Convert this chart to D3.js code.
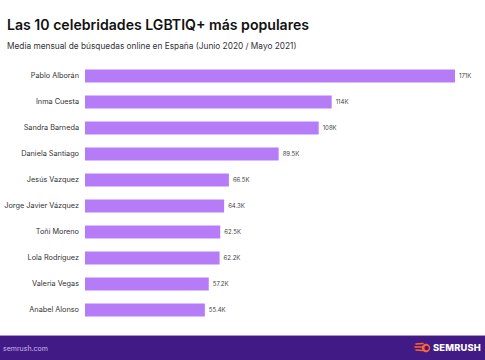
<!DOCTYPE html>
<html><head><meta charset="utf-8">
<script src="https://cdn.jsdelivr.net/npm/d3@7"></script>
<style>
html,body{margin:0;padding:0;background:#fff;}
svg{display:block;font-family:Inter,"Noto Sans",sans-serif;}
</style></head>
<body>
<svg id="c" width="485" height="360"></svg>
<script>
const names = ["Pablo Alborán","Inma Cuesta","Sandra Barneda","Daniela Santiago","Jesús Vazquez","Jorge Javier Vázquez","Toñi Moreno","Lola Rodríguez","Valeria Vegas","Anabel Alonso"];
const values = [171, 114, 108, 89.5, 66.5, 64.3, 62.5, 62.2, 57.2, 55.4];
const valueLabels = ["171K","114K","108K","89.5K","66.5K","64.3K","62.5K","62.2K","57.2K","55.4K"];
const title = "Las 10 celebridades LGBTIQ+ más populares";
const subtitle = "Media mensual de búsquedas online en España (Junio 2020 / Mayo 2021)";

const svg = d3.select("#c");
svg.append("rect").attr("width",485).attr("height",360).attr("fill","#fff");

svg.append("text").attr("x",7).attr("y",29.5).attr("font-size",14.1).attr("font-weight",600)
  .attr("fill","#111").text(title);
svg.append("text").attr("x",7).attr("y",48.5).attr("font-size",8.3).attr("fill","#333").text(subtitle);

const x = d3.scaleLinear().domain([0,171]).range([85,455]);
const y = d3.scaleBand().domain(names).range([63,323]).paddingInner(0.5).paddingOuter(0.25);

const g = svg.append("g");
g.selectAll("rect.bar").data(names).join("rect").attr("class","bar")
  .attr("x",x(0)).attr("y",d=>y(d)).attr("width",(d,i)=>x(values[i])-x(0)).attr("height",y.bandwidth())
  .attr("fill","#b67cf7");

const yAxis = d3.axisLeft(y).tickSize(0).tickPadding(6);
const ax = svg.append("g").attr("transform",`translate(${x(0)},0)`).call(yAxis);
ax.select(".domain").remove();
ax.selectAll("text").attr("font-size",7.3).attr("fill","#333").attr("font-family","Inter,'Noto Sans',sans-serif");

g.selectAll("text.val").data(names).join("text").attr("class","val")
  .attr("x",(d,i)=>x(values[i])+4).attr("y",d=>y(d)+y.bandwidth()/2).attr("dy","0.35em")
  .attr("font-size",6).attr("fill","#444").text((d,i)=>valueLabels[i]);

// footer
svg.append("rect").attr("x",0).attr("y",335).attr("width",485).attr("height",25).attr("fill","#421a85");
svg.append("rect").attr("x",0).attr("y",335).attr("width",485).attr("height",0.8).attr("fill","#c7b3e6");
svg.append("text").attr("x",3).attr("y",350.5).attr("font-size",7).attr("fill","#cbbce6").text("semrush.com");
// logo icon
const lg = svg.append("g").attr("transform","translate(423,348)");
lg.append("path").attr("d","M-7,-4 L0,-4.5 M-8,-1 L-1,-1 M-7,2 L0,2.5").attr("stroke","#ff642d").attr("stroke-width",1.6).attr("stroke-linecap","round");
lg.append("circle").attr("cx",3).attr("cy",0).attr("r",4.2).attr("fill","#ff642d");
lg.append("circle").attr("cx",3.6).attr("cy",0).attr("r",2.2).attr("fill","#421a85");
svg.append("text").attr("x",433).attr("y",351.3).attr("font-size",9.3).attr("font-weight",800)
  .attr("fill","#fff").attr("letter-spacing",0.2).text("SEMRUSH");
</script>
</body></html>
